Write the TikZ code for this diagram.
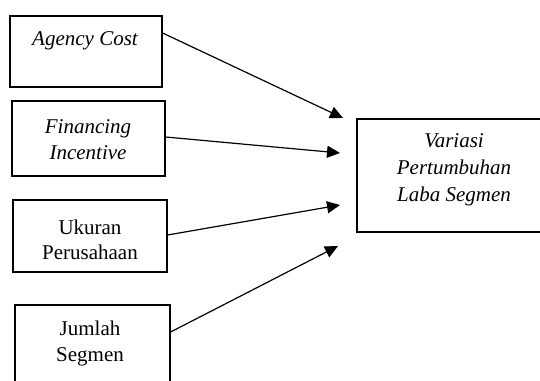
\documentclass[tikz,border=0pt]{standalone}
\usepackage{fontspec}
\setmainfont{Liberation Serif}
\usetikzlibrary{arrows.meta}
\begin{document}
\begin{tikzpicture}[x=1pt,y=-1pt,
  box/.style={draw, line width=1.2pt, inner sep=0pt},
  lbl/.style={font=\fontsize{21}{25}\selectfont, align=center, inner sep=0pt},
  arr/.style={line width=1.2pt, -{Triangle[length=13pt,width=12pt]}}]
\useasboundingbox (0,0) rectangle (540,380);
\clip (0,0) rectangle (540,380);
% boxes
\node[box, minimum width=152pt, minimum height=71pt] (b1) at (86,51.5) {};
\node[box, minimum width=153pt, minimum height=75pt] (b2) at (88.5,138.5) {};
\node[box, minimum width=154pt, minimum height=72pt] (b3) at (90,236) {};
\node[box, minimum width=155pt, minimum height=80pt] (b4) at (92.5,345) {};
\node[box, minimum width=190pt, minimum height=113pt] (b5) at (452,175.5) {};
% texts
\node[lbl, font=\fontsize{21}{25}\selectfont\itshape] (t1) at (85,41) {Agency Cost};
\node[lbl, font=\fontsize{21}{26}\selectfont\itshape] (t2) at (88,140) {Financing\\Incentive};
\node[lbl] (t3) at (90,240) {Ukuran\\Perusahaan};
\node[lbl, font=\fontsize{21}{26}\selectfont] (t4) at (90,343) {Jumlah\\Segmen};
\node[lbl, font=\fontsize{21}{27}\selectfont\itshape] (t5) at (454,170) {Variasi\\Pertumbuhan\\Laba Segmen};
% arrow end points
\coordinate (e1) at (343,118);
\coordinate (e2) at (340,153);
\coordinate (e3) at (340,205);
\coordinate (e4) at (338,246);
\draw[arr] (b1.east |- 0,33) -- (e1);
\draw[arr] (b2.east |- 0,137) -- (e2);
\draw[arr] (b3.east |- 0,235) -- (e3);
\draw[arr] (b4.east |- 0,332) -- (e4);
\end{tikzpicture}
\end{document}
